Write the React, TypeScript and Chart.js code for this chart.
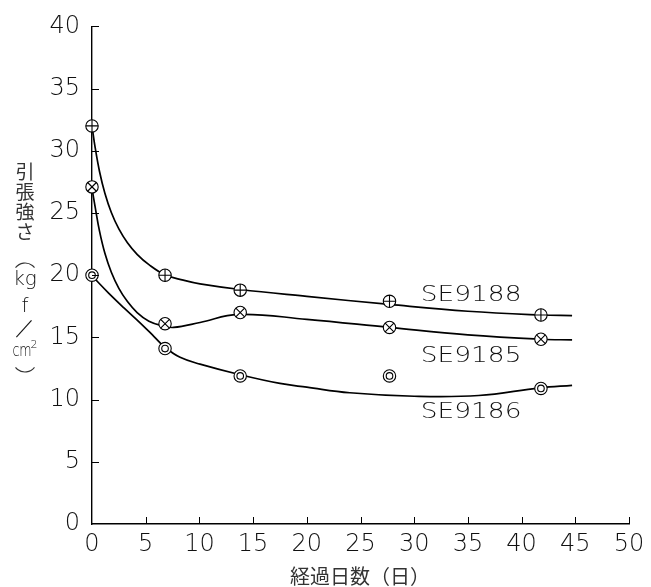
import React, { useEffect, useRef } from "react";
import { Chart, registerables } from "chart.js";
Chart.register(...registerables);

// ---- data ----
const xTickValues = [0, 5, 10, 15, 20, 25, 30, 35, 40, 45, 50];
const yTickValues = [0, 5, 10, 15, 20, 25, 30, 35, 40];

const days = [0, 6.8, 13.8, 27.7, 41.8];
const se9188 = [32, 20, 18.8, 17.9, 16.8];
const se9185 = [27.1, 16.1, 17.0, 15.8, 14.85];
const se9186 = [20, 14.1, 11.9, 11.9, 10.9];

// fitted curves
const fit9188X = [0, 0.3, 0.7, 1.2, 1.8, 2.5, 3.3, 4.2, 5.3, 6.8, 8.5, 10.06, 13.8, 20, 27.7, 35, 41.8, 44.7];
const fit9188Y = [32, 30.23, 28.34, 26.59, 25.04, 23.72, 22.61, 21.68, 20.85, 20.03, 19.6, 19.3, 18.85, 18.3, 17.65, 17.1, 16.8, 16.75];
const fit9185X = [0, 0.3, 0.7, 1.2, 1.8, 2.5, 3.3, 4.2, 5.3, 6.5, 7.6, 10.06, 13.6, 20, 27.7, 35, 41.8, 44.7];
const fit9185Y = [27.0, 25.45, 23.54, 21.76, 20.24, 18.94, 17.88, 17.0, 16.3, 15.95, 15.8, 16.2, 16.85, 16.45, 15.8, 15.2, 14.85, 14.8];
const fit9186X = [0, 1.5, 3, 4.5, 5.8, 6.8, 8.2, 10.06, 13.8, 17.5, 20, 24, 30, 36, 41.7, 44.7];
const fit9186Y = [19.95, 18.6, 17.35, 16.15, 15.05, 14.2, 13.4, 12.85, 12.0, 11.3, 11.0, 10.55, 10.27, 10.33, 10.95, 11.15];

const seriesNames = ["SE9188", "SE9185", "SE9186"];
const markerKinds = ["plus", "cross", "double"];
const seriesLabelAt = [
  [35.3, 18.4],
  [35.3, 13.5],
  [35.3, 8.95],
];

const yTitleChars = ["引", "張", "強", "さ"];
const yTitleUnit = ["kg", "f", "／"];
const xTitle = "経過日数（日）";

const FONT = "'DejaVu Sans ExtraLight', 'DejaVu Sans', sans-serif";
const JFONT = "'Noto Sans CJK JP', sans-serif";
const TEXT = "#111";

function drawMarker(g: CanvasRenderingContext2D, kind: string, x: number, y: number) {
  const r = 6.2;
  g.save();
  g.strokeStyle = "#000";
  g.fillStyle = "#fff";
  g.lineWidth = 1.1;
  g.beginPath();
  g.arc(x, y, r, 0, Math.PI * 2);
  g.fill();
  g.stroke();
  g.beginPath();
  if (kind === "plus") {
    g.moveTo(x, y - r);
    g.lineTo(x, y + r);
    g.moveTo(x - r, y);
    g.lineTo(x + r, y);
  } else if (kind === "cross") {
    const d = r * 0.7071;
    g.moveTo(x - d, y - d);
    g.lineTo(x + d, y + d);
    g.moveTo(x + d, y - d);
    g.lineTo(x - d, y + d);
  } else {
    g.arc(x, y, 3.3, 0, Math.PI * 2);
  }
  g.stroke();
  g.restore();
}

const decorPlugin = {
  id: "decor",
  afterDatasetsDraw(chart: any) {
    const ctx = chart.ctx;
    markerKinds.forEach((k, i) => {
      const meta = chart.getDatasetMeta(i);
      meta.data.forEach((el: any) => drawMarker(ctx, k, el.x, el.y));
    });
  },
  afterDraw(chart: any) {
    const { ctx, scales, chartArea } = chart;
    const xs = scales.x;
    const ys = scales.y;
    ctx.save();
    ctx.strokeStyle = "#000";
    ctx.lineWidth = 1;
    ctx.beginPath();
    yTickValues.forEach((v) => {
      if (v === 0) return;
      const py = Math.round(ys.getPixelForValue(v)) + 0.5;
      ctx.moveTo(chartArea.left, py);
      ctx.lineTo(chartArea.left + 7, py);
    });
    xTickValues.forEach((v) => {
      if (v === 0) return;
      const px = Math.round(xs.getPixelForValue(v)) + 0.5;
      ctx.moveTo(px, chartArea.bottom);
      ctx.lineTo(px, chartArea.bottom - 7);
    });
    ctx.stroke();

    ctx.fillStyle = TEXT;
    ctx.textAlign = "center";
    ctx.textBaseline = "middle";
    ctx.font = `200 22px ${FONT}`;
    seriesNames.forEach((n, i) => {
      const px = xs.getPixelForValue(seriesLabelAt[i][0]);
      const py = ys.getPixelForValue(seriesLabelAt[i][1]);
      ctx.save();
      ctx.translate(px, py);
      ctx.scale(1.2, 1);
      ctx.fillText(n, 0, 0);
      ctx.restore();
    });

    // x title
    ctx.fillStyle = "#333";
    ctx.font = `20px ${JFONT}`;
    ctx.fillText(xTitle, 360, 576);

    // y title (vertical)
    const cx = 25;
    ctx.font = `19px ${JFONT}`;
    const cy = [172, 192, 212, 232];
    yTitleChars.forEach((t, i) => ctx.fillText(t, cx, cy[i]));
    // parentheses drawn as vertical arcs
    ctx.strokeStyle = "#333";
    ctx.lineWidth = 1.1;
    ctx.beginPath();
    ctx.arc(cx, 275, 12, Math.PI * 1.21, Math.PI * 1.79);
    ctx.stroke();
    ctx.beginPath();
    ctx.arc(cx, 360, 12, Math.PI * 0.21, Math.PI * 0.79);
    ctx.stroke();
    ctx.fillStyle = TEXT;
    ctx.font = `200 20px ${FONT}`;
    const uy = [280, 307, 329];
    yTitleUnit.forEach((t, i) => ctx.fillText(t, cx, uy[i]));
    // cm²
    ctx.save();
    ctx.translate(cx - 3, 351);
    ctx.scale(0.7, 1);
    ctx.font = `200 18px ${FONT}`;
    ctx.fillText("cm", 0, 0);
    ctx.restore();
    ctx.font = `200 11px ${FONT}`;
    ctx.fillText("2", cx + 9, 345);
    ctx.restore();
  },
};

function toPts(xa: number[], ya: number[]) {
  return xa.map((x, i) => ({ x, y: ya[i] }));
}

export default function App() {
  const ref = useRef<HTMLCanvasElement>(null);
  useEffect(() => {
    const pointSets = [se9188, se9185, se9186];
    const fits = [
      toPts(fit9188X, fit9188Y),
      toPts(fit9185X, fit9185Y),
      toPts(fit9186X, fit9186Y),
    ];
    const datasets: any[] = [];
    pointSets.forEach((ys, i) => {
      datasets.push({
        label: seriesNames[i],
        data: toPts(days, ys),
        showLine: false,
        pointRadius: 0,
        order: 0,
      });
    });
    fits.forEach((d, i) => {
      datasets.push({
        label: seriesNames[i] + " fit",
        data: d,
        showLine: true,
        borderColor: "#000",
        borderWidth: 1.7,
        pointRadius: 0,
        tension: 0.4,
        fill: false,
        order: 1,
      });
    });
    const tickFont = { family: FONT, size: 24, weight: "200" as any };
    const chart = new Chart(ref.current!, {
      type: "scatter",
      data: { datasets },
      options: {
        animation: false,
        responsive: false,
        layout: { padding: { left: 0, right: 22, top: 25, bottom: 0 } },
        plugins: { legend: { display: false }, tooltip: { enabled: false } },
        scales: {
          x: {
            type: "linear",
            min: 0,
            max: 50,
            afterBuildTicks: (s: any) => {
              s.ticks = xTickValues.map((v) => ({ value: v }));
            },
            afterFit: (s: any) => {
              s.height = 63;
            },
            grid: { display: false, drawTicks: false },
            border: { display: true, color: "#000", width: 1.4 },
            ticks: {
              color: TEXT,
              font: tickFont,
              padding: 6,
              maxRotation: 0,
              autoSkip: false,
            },
          },
          y: {
            type: "linear",
            min: 0,
            max: 40,
            afterBuildTicks: (s: any) => {
              s.ticks = yTickValues.map((v) => ({ value: v }));
            },
            afterFit: (s: any) => {
              s.width = 92;
            },
            grid: { display: false, drawTicks: false },
            border: { display: true, color: "#000", width: 1.4 },
            ticks: {
              color: TEXT,
              font: tickFont,
              padding: 12,
              autoSkip: false,
            },
          },
        },
      },
      plugins: [decorPlugin],
    });
    return () => chart.destroy();
  }, []);
  return (
    <div style={{ position: "fixed", left: 0, top: 0, width: 651, height: 587, background: "#fff" }}>
      <canvas ref={ref} width={651} height={587} style={{ width: 651, height: 587 }} />
    </div>
  );
}
